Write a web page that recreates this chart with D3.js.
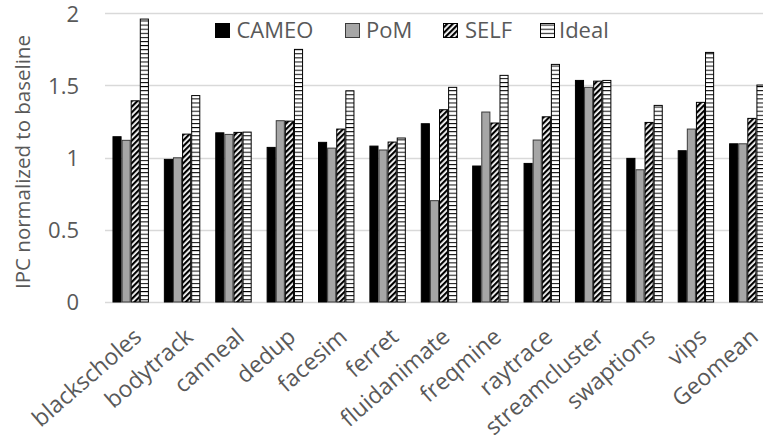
<!DOCTYPE html>
<html><head><meta charset="utf-8">
<script src="https://cdn.jsdelivr.net/npm/d3@7"></script>
<style>
html,body{margin:0;padding:0;background:#fff;}
svg{display:block;font-family:"Open Sans", Lato, sans-serif;}
</style></head>
<body><svg id="c" width="763" height="436"></svg>
<script>
const categories = ["blackscholes","bodytrack","canneal","dedup","facesim","ferret","fluidanimate","freqmine","raytrace","streamcluster","swaptions","vips","Geomean"];
const seriesNames = ["CAMEO","PoM","SELF","Ideal"];
const cameo = [1.145,0.988,1.172,1.071,1.106,1.080,1.235,0.942,0.960,1.535,0.995,1.048,1.096];
const pom   = [1.120,0.999,1.161,1.256,1.066,1.053,0.702,1.316,1.122,1.487,0.916,1.198,1.096];
const self_ = [1.394,1.163,1.175,1.253,1.198,1.108,1.332,1.240,1.283,1.530,1.244,1.383,1.272];
const ideal = [1.960,1.430,1.177,1.750,1.463,1.136,1.487,1.570,1.646,1.535,1.362,1.729,1.503];
const yTicks = [0,0.5,1,1.5,2];
const yTickLabels = ["0","0.5","1","1.5","2"];
const yTitle = "IPC normalized to baseline";

const values = [cameo, pom, self_, ideal];
const rows = categories.map((c,i)=>({cat:c, vals:seriesNames.map((s,j)=>({s, v:values[j][i]}))}));

const svg = d3.select("#c");
const defs = svg.append("defs");
// diagonal stripes
const p1 = defs.append("pattern").attr("id","diag").attr("patternUnits","userSpaceOnUse")
  .attr("width",4).attr("height",4).attr("patternTransform","rotate(45)");
p1.append("rect").attr("width",4).attr("height",4).attr("fill","#fff");
p1.append("rect").attr("width",2.2).attr("height",4).attr("fill","#000");
// horizontal lines
const p2 = defs.append("pattern").attr("id","hlines").attr("patternUnits","userSpaceOnUse")
  .attr("width",8).attr("height",4.1);
p2.append("rect").attr("width",8).attr("height",4.1).attr("fill","#fff");
p2.append("rect").attr("y",0).attr("width",8).attr("height",1).attr("fill","#000");

const fills = {CAMEO:"#000", PoM:"#a6a6a6", SELF:"url(#diag)", Ideal:"url(#hlines)"};
const strokes = {CAMEO:"#000", PoM:"#3a3a3a", SELF:"#000", Ideal:"#000"};

const plotL = 105, plotR = 773, plotT = 13.3, plotB = 302;
const y = d3.scaleLinear().domain([0,2]).range([plotB, plotT]);
const x0 = d3.scaleBand().domain(categories).range([plotL, plotR]).paddingInner(0.291).paddingOuter(0.1455);
const x1 = d3.scaleBand().domain(seriesNames).range([0, x0.bandwidth()]);

const textCol = "#595959";

// grid
svg.append("g").selectAll("line").data(yTicks).join("line")
  .attr("x1",plotL).attr("x2",763).attr("y1",d=>Math.round(y(d))+0.5).attr("y2",d=>Math.round(y(d))+0.5)
  .attr("stroke","#d9d9d9").attr("stroke-width",1.3);

// y axis labels
const yAxis = d3.axisLeft(y).tickValues(yTicks).tickFormat((d,i)=>yTickLabels[i]).tickSize(0).tickPadding(0);
const gy = svg.append("g").attr("transform",`translate(79,0)`).call(yAxis);
gy.select(".domain").remove();
gy.selectAll("text").attr("fill",textCol).attr("font-size",22).attr("font-family","Open Sans").attr("dy","0.36em");

// y title
svg.append("text").attr("transform",`translate(23,162) rotate(-90)`).attr("text-anchor","middle")
  .attr("dy","0.35em").attr("fill",textCol).attr("font-size",20.5).text(yTitle);

// bars
const g = svg.append("g");
g.selectAll("g").data(rows).join("g").attr("transform",d=>`translate(${x0(d.cat)},0)`)
  .selectAll("rect").data(d=>d.vals).join("rect")
  .attr("x",d=>x1(d.s)+0.5).attr("width",x1.bandwidth()-1)
  .attr("y",d=>y(d.v)).attr("height",d=>y(0)-y(d.v))
  .attr("fill",d=>fills[d.s]).attr("stroke",d=>strokes[d.s]).attr("stroke-width",1);

// x labels
const xAxis = d3.axisBottom(x0).tickSize(0).tickPadding(0);
const gx = svg.append("g").attr("transform",`translate(0,${plotB})`).call(xAxis);
gx.select(".domain").remove();
gx.selectAll("text").attr("fill",textCol).attr("font-size",23).attr("font-family","Open Sans")
  .attr("text-anchor","end").attr("dy","0.35em").attr("y",0)
  .attr("transform","translate(7,31) rotate(-41)");

// legend
const legX = [215, 345, 443, 540];
const legTX = [236.5, 366, 465, 559];
const lg = svg.append("g");
seriesNames.forEach((s,i)=>{
  lg.append("rect").attr("x",legX[i]+0.5).attr("y",23.5).attr("width",14).attr("height",14)
    .attr("fill",fills[s]).attr("stroke",strokes[s]).attr("stroke-width",1);
  lg.append("text").attr("x",legTX[i]).attr("y",30.5).attr("dy","0.36em").attr("fill",textCol)
    .attr("font-size",22).text(s);
});
</script></body></html>
